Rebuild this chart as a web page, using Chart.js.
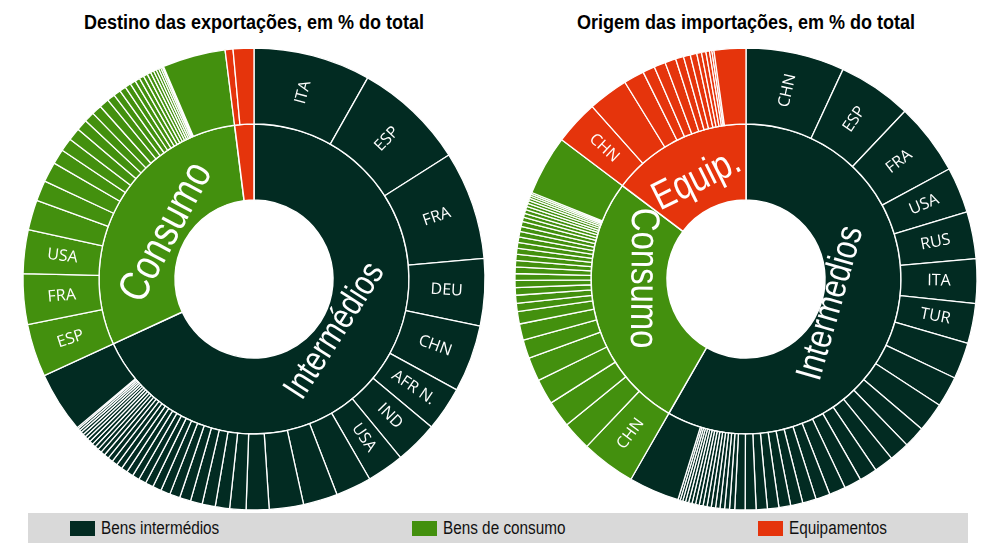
<!DOCTYPE html>
<html>
<head>
<meta charset="utf-8">
<script src="https://cdn.jsdelivr.net/npm/chart.js@4.4.1/dist/chart.umd.min.js"></script>
<style>
  body { margin: 0; background: #fff; width: 1000px; height: 544px; position: relative; overflow: hidden;
         font-family: "Liberation Sans", Arial, sans-serif; }
  .title { position: absolute; top: 10px; width: 480px; text-align: center; font-weight: bold;
           font-size: 20px; line-height: 24px; color: #000; transform: scaleX(0.9); transform-origin: center; }
  .wrap { position: absolute; top: 44px; width: 470px; height: 470px; }
  #legend { position: absolute; left: 28px; top: 513px; width: 940px; height: 30px; background: #d9d9d9; }
  .item { position: absolute; top: 0; height: 30px; line-height: 30px; font-size: 18px; color: #111; white-space: nowrap; }
  .sw { position: absolute; left: 0; top: 8px; width: 25px; height: 15px; }
  .txt { position: absolute; left: 31px; top: 0; transform: scaleX(0.85); transform-origin: left center; }
</style>
</head>
<body>
<div class="title" style="left:14px">Destino das exportações, em % do total</div>
<div class="title" style="left:506px">Origem das importações, em % do total</div>
<div class="wrap" style="left:19px"><canvas id="expChart" width="470" height="470"></canvas></div>
<div class="wrap" style="left:511px"><canvas id="impChart" width="470" height="470"></canvas></div>
<div id="legend">
  <div class="item" style="left:42px"><span class="sw" style="background:#022b22"></span><span class="txt">Bens intermédios</span></div>
  <div class="item" style="left:384px"><span class="sw" style="background:#43900e"></span><span class="txt">Bens de consumo</span></div>
  <div class="item" style="left:730px"><span class="sw" style="background:#e5340c"></span><span class="txt">Equipamentos</span></div>
</div>
<script>
const categories = ["Intermédios", "Consumo", "Equip."];
const colors = ["#022b22", "#43900e", "#e5340c"];

// Exportações (% do total)
const expTotals = [68.2, 29.9, 2.0];
const expInterm = [8.2, 7.8, 7.6, 4.7, 4.7, 3.1, 3.0, 2.6, 2.5, 2.4, 2.4, 1.6, 1.14, 1.0, 0.92, 0.83, 0.78,
  0.72, 0.67, 0.61, 0.56, 0.53, 0.5, 0.47, 0.44, 0.42, 0.39, 0.36, 0.33, 0.31, 0.28, 0.27, 0.26, 0.25,
  0.24, 0.22, 0.21, 0.2, 0.17, 0.15, 0.11, 4.26];
const expIntermNames = ["ITA", "ESP", "FRA", "DEU", "CHN", "AFR N.", "IND", "USA"];
const expConsumo = [3.7, 3.55, 3.05, 2.1, 1.45, 1.4, 1.05, 0.92, 0.89, 0.78, 0.72, 0.7, 0.68, 0.55, 0.5,
  0.45, 0.42, 0.38, 0.35, 0.32, 0.29, 0.26, 0.23, 0.2, 0.18, 0.16, 0.12, 0.09, 4.41];
const expConsumoNames = ["ESP", "FRA", "USA"];
const expEquip = [0.55, 1.45];
const expEquipNames = [];

// Importações (% do total)
const impTotals = [58.3, 27.0, 14.7];
const impInterm = [6.9, 5.17, 5.03, 3.2, 3.3, 3.1, 2.8, 2.55, 2.15, 2.05, 1.5, 1.4, 1.35, 1.25, 1.2, 1.15,
  1.0, 0.95, 0.85, 0.82, 0.8, 0.78, 0.76, 0.72, 0.36, 0.34, 0.32, 0.31, 0.3, 0.29, 0.28, 0.27, 0.26,
  0.25, 0.24, 0.22, 0.2, 0.18, 0.16, 3.54];
const impIntermNames = ["CHN", "ESP", "FRA", "USA", "RUS", "ITA", "TUR"];
const impConsumo = [3.8, 2.03, 1.86, 1.78, 1.67, 1.3, 1.14, 0.86, 0.58, 0.56, 0.53, 0.5, 0.47, 0.46, 0.44,
  0.43, 0.42, 0.4, 0.39, 0.38, 0.36, 0.35, 0.3, 0.28, 0.26, 0.24, 0.22, 0.2, 0.18, 0.16, 0.14, 0.12, 4.19];
const impConsumoNames = ["CHN"];
const impEquip = [3.11, 2.81, 1.44, 0.85, 0.8, 0.77, 0.56, 0.48, 0.46, 0.33, 0.31, 0.25, 0.17, 0.14, 2.22];
const impEquipNames = ["CHN"];

function padNames(values, names) {
  return values.map((v, i) => names[i] || "");
}

function buildDatasets(groups, totals, innerNames) {
  const outerData = [], outerColors = [], outerNames = [];
  groups.forEach((g, k) => {
    g.values.forEach(v => { outerData.push(v); outerColors.push(colors[k]); });
    outerNames.push(...padNames(g.values, g.names));
  });
  return [
    { ring: "outer", data: outerData, backgroundColor: outerColors, names: outerNames,
      borderColor: "#fff", borderWidth: 1.3 },
    { ring: "inner", data: totals, backgroundColor: colors, names: innerNames,
      borderColor: "#fff", borderWidth: 1.5 }
  ];
}

const NARROW = 0.82;

function degFromTop(a) {
  return (((a + Math.PI / 2) * 180 / Math.PI) % 360 + 360) % 360;
}

const arcLabels = {
  id: "arcLabels",
  afterDatasetsDraw(chart, args, opts) {
    const ctx = chart.ctx;
    chart.data.datasets.forEach((ds, di) => {
      const meta = chart.getDatasetMeta(di);
      meta.data.forEach((arc, i) => {
        const text = ds.names[i];
        if (!text) return;
        const p = arc.getProps(["startAngle", "endAngle", "innerRadius", "outerRadius", "x", "y"], true);
        let mid = (p.startAngle + p.endAngle) / 2;
        const deg = degFromTop(mid);
        ctx.save();
        ctx.fillStyle = "#fff";
        ctx.textAlign = "center";
        ctx.textBaseline = "middle";
        if (ds.ring === "outer") {
          ctx.font = '16px "Open Sans"';
          const r = (p.innerRadius + p.outerRadius) / 2;
          ctx.translate(p.x + r * Math.cos(mid), p.y + r * Math.sin(mid));
          ctx.rotate(deg < 180 ? mid : mid + Math.PI);
        } else {
          const lowerHalf = deg > 90 && deg < 270;
          mid += (opts.shift[i] || 0) * Math.PI / 180;
          ctx.font = opts.sizes[i] + 'px "Liberation Sans", Arial, sans-serif';
          const half = ctx.measureText(text).width * NARROW / 2;
          const rm = (p.innerRadius + p.outerRadius) / 2;
          // straight text as a chord: centre pulled in so its ends sit near mid-ring
          const d = (4 * rm * rm - half * half) / (4 * rm) - 6 + (opts.nudge[i] || 0);
          ctx.translate(p.x + d * Math.cos(mid), p.y + d * Math.sin(mid));
          ctx.rotate(lowerHalf ? mid - Math.PI / 2 : mid + Math.PI / 2);
          ctx.scale(NARROW, 1);
        }
        ctx.fillText(text, 0, 0);
        ctx.restore();
      });
    });
  }
};

function makeChart(id, datasets, labelOpts) {
  return new Chart(document.getElementById(id), {
    type: "doughnut",
    data: { labels: datasets[0].data.map((v, i) => i), datasets },
    options: {
      responsive: false,
      animation: false,
      cutout: "34.2%",
      radius: 231,
      layout: { padding: 0 },
      plugins: {
        legend: { display: false },
        tooltip: { enabled: false },
        arcLabels: labelOpts
      }
    },
    plugins: [arcLabels]
  });
}

makeChart("expChart", buildDatasets([
  { values: expInterm, names: expIntermNames },
  { values: expConsumo, names: expConsumoNames },
  { values: expEquip, names: expEquipNames }
], expTotals, ["Intermédios", "Consumo", ""]), { sizes: [36, 43, 40], shift: [0, -1, 0], nudge: [-2, 0, 0] });

makeChart("impChart", buildDatasets([
  { values: impInterm, names: impIntermNames },
  { values: impConsumo, names: impConsumoNames },
  { values: impEquip, names: impEquipNames }
], impTotals, categories), { sizes: [37, 40, 40], shift: [1, 12, 0], nudge: [-9, 3, 4] });
</script>
</body>
</html>
